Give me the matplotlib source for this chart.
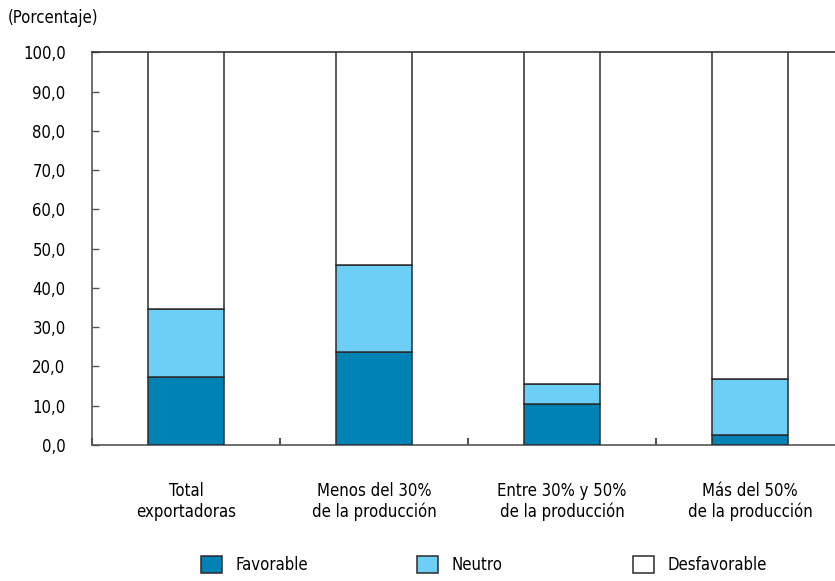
import matplotlib
matplotlib.use("Agg")
import matplotlib.pyplot as plt
import numpy as np

plt.rcParams['font.family'] = ['DejaVu Sans']
plt.rcParams['font.stretch'] = 'condensed'

categories = ["Total\nexportadoras", "Menos del 30%\nde la producción",
              "Entre 30% y 50%\nde la producción", "Más del 50%\nde la producción"]
favorable = [17.2, 23.8, 10.4, 2.5]
neutro = [17.4, 22.0, 5.1, 14.3]
series_names = ["Favorable", "Neutro", "Desfavorable"]
series_colors = ["#0082B4", "#6DCFF6", "#FFFFFF"]
y_ticks = [0, 10, 20, 30, 40, 50, 60, 70, 80, 90, 100]

fav = np.array(favorable)
neu = np.array(neutro)
desf = 100 - fav - neu

FS = 12
W, H = 835, 581
fig = plt.figure(figsize=(W / 100, H / 100), dpi=100)
ax = fig.add_axes([92 / W, 1 - 445 / H, 752 / W, (445 - 52.3) / H])

x = np.arange(len(categories))
edge = "#2b2b2b"
bw = 0.4
bars = []
bottom = np.zeros(len(x))
for vals, name, col in zip([fav, neu, desf], series_names, series_colors):
    b = ax.bar(x, vals, bw, bottom=bottom, color=col, edgecolor=edge,
               linewidth=1.1, label=name, zorder=3)
    bars.append(b)
    bottom = bottom + vals

ax.set_xlim(-0.5, len(categories) - 0.5)
ax.set_ylim(0, 100)
ax.set_yticks(y_ticks)
ax.set_yticklabels([f"{v:.1f}".replace(".", ",") for v in y_ticks], fontsize=FS)
ax.tick_params(axis='y', direction='in', length=5, width=1, color="#555555", pad=19)

# category labels centred under bars, boundary ticks between groups
ax.set_xticks(x)
ax.set_xticklabels(categories, fontsize=FS, linespacing=1.2)
ax.tick_params(axis='x', which='major', length=0, pad=26.5)
ax.set_xticks(np.arange(-0.5, len(categories) + 0.5, 1), minor=True)
ax.tick_params(axis='x', which='minor', direction='in', length=5, width=1.5, color="#555555")

ax.spines["right"].set_visible(False)
for s in ["left", "bottom", "top"]:
    ax.spines[s].set_color("#555555")
    ax.spines[s].set_linewidth(1.2)
ax.spines["top"].set_color("#333333")

fig.text(8 / W, 1 - 18 / H, "(Porcentaje)", fontsize=FS, va="center", ha="left")

# legend entries placed individually along the bottom
leg_x = [201, 417, 633]
for b, name, lx in zip(bars, series_names, leg_x):
    fig.legend([b], [name], loc="center left", bbox_to_anchor=(lx / W, 1 - 565 / H),
               frameon=False, fontsize=FS, handlelength=1.25, handleheight=1.25,
               handletextpad=0.8, borderpad=0, borderaxespad=0)

fig.savefig("out.png", dpi=100)
